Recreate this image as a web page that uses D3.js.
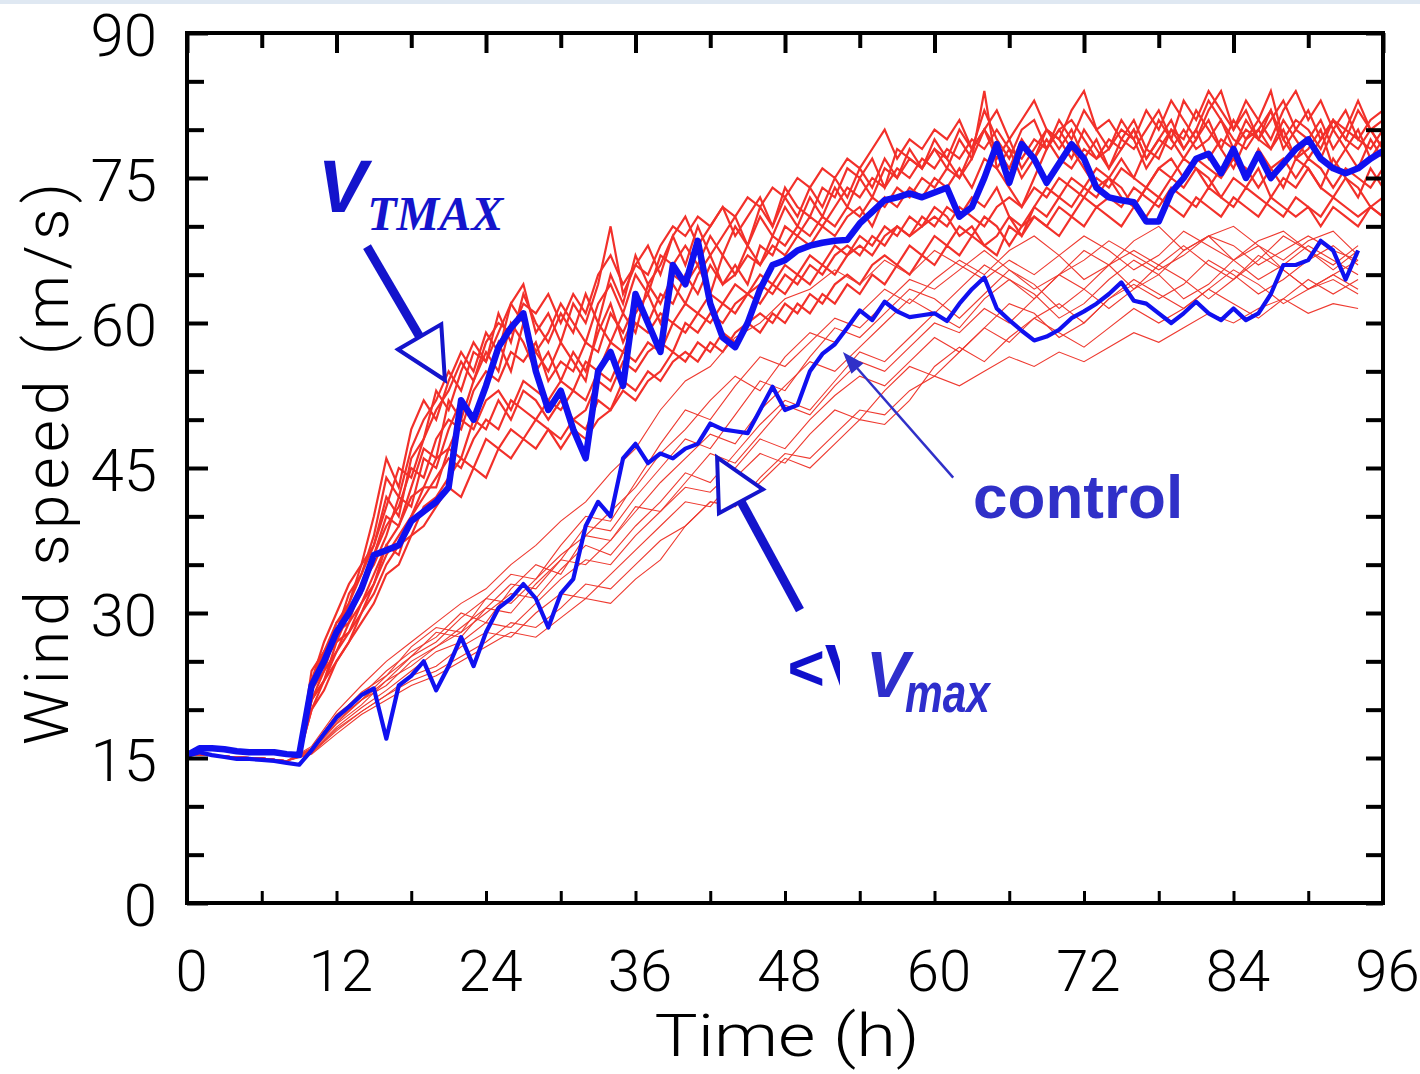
<!DOCTYPE html>
<html>
<head>
<meta charset="utf-8">
<script src="https://cdn.jsdelivr.net/npm/d3@7"></script>
<style>
  body { margin: 0; background: #fff; }
  svg { display: block; }
  .tick text { font-family: Roboto, "Liberation Sans", sans-serif; font-weight: 300; fill: #000; }
</style>
</head>
<body>
<div id="chart-area"></div>
<script>
// ---- data (hourly for V_TMAX runs, h = index) ----
var ctrlTmax = [15.3,16,16,15.9,15.7,15.6,15.6,15.6,15.4,15.3,
  22.5,25,28,30,32.5,36,36.5,37,39.5,40.5,
  41.5,43,52,50,53.5,57.5,59.5,61,55,51,
  53,49,46,55,57,53.5,63,60,57,66,
  64,68.5,62,58.5,57.5,60,63.5,66,66.5,67.5,
  68,68.3,68.5,68.6,70.3,71.5,72.7,73,73.4,73,
  73.5,74,71,72,75,78.5,74.5,78.5,77,74.5,
  76.5,78.5,77,74,73,72.7,72.5,70.5,70.5,73.5,
  75,77,77.5,75.5,78,75,77.5,75,76.5,78,
  79,77,76,75.5,76,77,77.8];

// control run, V_max (hourly, h = index, ends at 94 h)
var ctrlVmax = [15.2,15.6,15.3,15.1,14.9,14.9,14.8,14.7,14.5,14.3,
  15.8,17.5,19.2,20.3,21.5,22.2,17,22.5,23.5,25,
  22,24.5,27.5,24.5,28,30.5,31.5,33,31.5,28.5,
  32,33.5,39,41.5,40,46,47.5,45.5,46.5,46,
  47,47.5,49.6,49,48.8,48.6,51,53.4,51,51.5,
  55,56.8,57.8,59.5,61.3,60.3,62.2,61.2,60.6,60.8,
  61,60.2,62,63.5,64.7,61.5,60.3,59.2,58.2,58.6,
  59.3,60.5,61.2,62,63,64.2,62.3,62,61,60,
  61,62.2,61,60.3,61.5,60.3,61,63,66,66,
  66.5,68.5,67.5,64.5,67.5];

// ensemble members, V_TMAX (hourly)
var tmaxM1 = [15.3,16,16,15.9,15.7,15.6,15.6,15.6,15.4,15.3,
  24,26,29,31,34,38,44,42,47,50, 52,55,53,57,56,61,58,63,60,58,
  61,59,63,60,65,62,67,64,66,69, 66,70,67,69,71,68,72,70,73,71,
  74,72,75,73,76,74,77,75,78,76, 79,77,80,78,82,79,77,80,81,78,
  81,79,82,80,78,81,79,82,80,83, 81,79,82,84,80,82,79,81,83,80,
  82,79,81,80,83,80,81];
var tmaxM2 = [15.3,16,16,15.9,15.7,15.6,15.6,15.6,15.4,15.3,
  20,22,25,27,29,31,34,35,38,39, 41,43,42,45,44,47,46,48,47,49,
  47,49,48,50,51,53,52,54,55,57, 56,58,57,59,58,60,61,60,62,61,
  63,62,64,65,64,66,67,66,68,67, 69,68,70,69,71,70,68,70,71,70,
  72,71,73,72,73,72,74,73,72,74, 73,72,74,73,72,74,73,72,71,73,
  72,71,73,72,71,72,71];
var tmaxM3 = [15.3,16,16,15.9,15.7,15.6,15.6,15.6,15.4,15.3,
  22,25,27,30,32,36,39,41,45,44, 48,50,49,53,55,54,57,56,58,54,
  56,55,58,57,61,59,62,60,63,62, 65,63,66,64,65,67,66,68,67,69,
  68,70,69,71,72,70,73,72,74,73, 75,74,76,74,77,76,78,75,77,79,
  77,76,78,77,79,78,80,77,79,78, 80,78,79,81,78,80,79,82,78,80,
  79,81,78,80,79,78,80];
var tmaxM4 = [15.3,16,16,15.9,15.7,15.6,15.6,15.6,15.4,15.3,
  23,27,30,33,35,40,46,43,49,52, 50,54,57,55,59,57,62,64,59,61,
  58,62,60,64,70,63,66,68,65,69, 71,68,70,72,69,71,73,70,74,72,
  71,74,73,76,75,77,74,78,77,76, 78,76,79,77,80,78,76,79,77,80,
  78,80,77,79,76,78,80,77,79,81, 78,80,77,79,78,81,79,78,80,77,
  79,77,80,78,76,79,77];
var tmaxM5 = [15.3,16,16,15.9,15.7,15.6,15.6,15.6,15.4,15.3,
  21,23,26,28,30,33,36,38,40,42, 44,46,45,48,50,49,52,51,50,52,
  51,53,52,55,54,57,56,58,57,60, 59,61,60,62,61,63,64,63,65,64,
  66,65,67,68,67,69,68,70,69,71, 70,72,71,73,72,74,71,69,72,74,
  73,75,74,76,75,73,72,74,76,75, 77,76,74,76,77,75,78,76,74,77,
  76,74,77,75,73,76,74];
var tmaxM6 = [15.3,16,16,15.9,15.7,15.6,15.6,15.6,15.4,15.3,
  22,24,28,29,33,35,38,42,41,46, 45,49,52,50,54,58,55,60,57,55,
  58,56,54,60,58,61,59,64,62,65, 64,66,63,67,65,68,66,69,68,70,
  69,71,70,72,71,73,72,74,73,75, 74,76,75,77,84,76,74,72,75,78,
  80,78,76,74,75,77,75,78,81,79, 77,79,81,78,76,79,81,84,79,77,
  78,80,76,78,80,77,79];
var tmaxM7 = [15.3,16,16,15.9,15.7,15.6,15.6,15.6,15.4,15.3,
  21,24,26,29,31,34,37,39,42,43, 46,47,50,49,52,53,51,54,53,52,
  54,53,56,55,58,57,60,59,61,60, 62,61,63,62,64,63,65,64,66,65,
  67,66,68,67,69,68,70,69,71,70, 72,71,69,70,68,69,71,70,72,71,
  73,72,74,73,75,74,72,74,73,75, 74,76,75,73,75,74,76,73,75,74,
  76,74,73,75,74,72,73];
var tmaxM8 = [15.3,16,16,15.9,15.7,15.6,15.6,15.6,15.4,15.3,
  23,26,28,32,34,37,41,45,44,48, 51,53,56,54,58,60,59,62,61,63,
  60,63,61,65,67,64,66,65,68,70, 69,71,70,72,71,73,72,74,73,75,
  74,76,75,77,76,78,80,77,79,78, 80,79,81,78,80,82,79,81,83,80,
  79,82,84,80,81,79,78,80,82,79, 83,81,84,82,80,83,81,79,82,84,
  81,83,80,82,79,81,82];
var tmaxM9 = [15.3,16,16,15.9,15.7,15.6,15.6,15.6,15.4,15.3,
  22,26,28,31,35,37,42,40,46,48, 53,51,55,58,56,59,62,60,57,59,
  62,60,58,62,64,61,65,63,67,66, 68,66,69,67,70,68,71,69,72,70,
  73,71,74,72,75,73,76,75,77,76, 78,77,75,78,80,77,79,76,78,80,
  79,77,80,78,76,79,81,78,77,80, 79,82,80,78,81,79,80,82,79,81,
  80,78,81,79,82,80,78];
var tmaxM10 = [15.3,16,16,15.9,15.7,15.6,15.6,15.6,15.4,15.3,
  21,23,27,28,31,33,37,36,40,43, 43,47,46,50,49,52,50,53,52,50,
  52,50,51,54,53,56,55,57,58,57, 60,59,61,60,62,63,62,64,63,65,
  64,66,65,67,68,67,69,70,69,70, 71,70,72,71,70,72,73,72,74,73,
  75,74,73,75,74,76,75,74,76,77, 75,77,76,75,77,76,74,76,77,75,
  77,76,74,76,75,74,76];
var tmaxM11 = [15.3,16,16,15.9,15.7,15.6,15.6,15.6,15.4,15.3,
  23,25,29,30,33,36,40,39,43,47, 46,52,50,54,57,55,60,58,55,57,
  54,57,55,59,62,58,61,63,60,64, 62,65,67,64,66,64,68,67,70,69,
  71,70,72,74,73,75,74,76,75,77, 76,78,77,79,78,80,78,77,79,78,
  80,81,79,77,78,80,79,76,78,80, 78,80,83,81,79,78,80,78,81,79,
  77,79,81,79,78,80,78];
var tmaxM12 = [15.3,16,16,15.9,15.7,15.6,15.6,15.6,15.4,15.3,
  20,23,25,27,30,32,35,37,38,41, 42,44,46,45,48,47,49,48,50,49,
  48,50,49,52,51,54,53,55,54,56, 57,56,58,57,59,60,59,61,60,62,
  61,63,62,64,63,65,64,66,65,67, 66,68,67,69,68,67,70,69,71,70,
  69,71,70,72,71,70,72,71,73,72, 71,73,72,71,73,72,71,73,72,71,
  72,70,72,71,70,72,71];

// ensemble members, V_max (every 2 h, h = 2 * index)
var vmaxM1 = [15.3,15.3,15.1,15,14.7,16.2,19.8,22.5,25,27, 29,31,32.5,35,37,39.5,41.5,44.5,47,51,
  54,55.5,58.5,60,62.5,63.5,65.5,64,66.5,65, 67.5,66,64.5,66.5,65,67,69,67.5,65.5,67, 69.5,68,66.5,68.5,69.5,67.5,66,68];
var vmaxM2 = [15.3,15.3,15.1,15,14.7,16,19.5,21.5,24,26, 27.5,30,29,32.5,35,34,38,40.5,43,46.5,
  49,52,54.5,53,56.5,59,58,61,63.5,62, 64.5,66.5,65,67.5,69,67,64.5,66,68.5,70, 67.5,69,70,68,66.5,68.5,69.5,67];
var vmaxM3 = [15.3,15.3,15.1,15,14.7,15.8,18.8,21,23.5,25.5, 27,29.5,31.5,31,33.5,36,38,37.5,40.5,43.5,
  46,48.5,47.5,51,53.5,56,55,57.5,60,62.5, 61,63.5,66,64.5,62.5,65,67.5,66,63.5,65, 67.5,69,66.5,64.5,66,68,66.5,65];
var vmaxM4 = [15.3,15.3,15.1,15,14.7,15.7,18.5,20.5,23,24.5, 26.5,28,30,32,31.5,34.5,37,36,39,41.5,
  44.5,43.5,46.5,49.5,52,51,54,57,56,58.5, 61,59.5,62.5,64.5,63,60.5,62,64.5,66.5,65, 62.5,64,66.5,68,65.5,63.5,65,66.5];
var vmaxM5 = [15.3,15.3,15.1,15,14.7,15.6,18.2,20.2,22,24, 26,27,29,28.5,31,33.5,35.5,35,38,40.5,
  43,42.5,45,48,47,50,52.5,54.5,53.5,56, 58.5,57,59.5,62,61,58.5,60,62.5,64,62.5, 64,66.5,65,63,64.5,66.5,68,66];
var vmaxM6 = [15.3,15.3,15.1,15,14.7,15.5,18,19.8,21.5,23.5, 24.5,26.5,28,27.5,30,32,31.5,34,36.5,39,
  41.5,41,44,46.5,45.5,48.5,51,50,53,55.5, 54.5,57,59.5,58,60.5,62,60,62.5,64.5,63, 61.5,63.5,65.5,64,62,63.5,65,63.5];
var vmaxM7 = [15.3,15.3,15.1,15,14.7,15.5,17.8,19.8,21.5,23, 24,25.5,27,29,28.5,30.5,33,32.5,35,37.5,
  39,41.5,41,43.5,46,45,47.5,50,49.5,52, 55.5,57.5,56,58.5,60.5,59,57.5,59.5,61.5,60, 61.5,63.5,62,60.5,62.5,64.5,63,64.5];
var vmaxM8 = [15.3,15.3,15.1,15,14.7,15.4,17.5,19.5,21,22.5, 23.5,25,26.5,28,27.5,29.5,31.5,31,33.5,35.5,
  39,41.5,41,44,46.5,46,48.5,51,50.5,53, 54.5,53.5,55,56.5,55.5,57,56,57.5,59,58, 59.5,61,60,61.5,62.5,61,62,61.5];
var vmaxM9 = [15.3,15.3,15.1,15,14.7,15.9,19,21,23,25.5, 28,27.5,30.5,33,32.5,35.5,39,38.5,42,45,
  48,47,50.5,54,53,56.5,59.5,58.5,61,63.5, 62.5,60.5,63,65.5,64,61.5,63.5,66,67.5,66, 68,66,64.5,66.5,69,67.5,65.5,67.5];
var vmaxM10 = [15.3,15.3,15.1,15,14.7,15.8,18.6,21,22.5,25, 26.5,28.5,30.5,30,33,35.5,35,37.5,41,40.5,
  43.5,46.5,45.5,48.5,51.5,50.5,53.5,56,55,57.5, 60,59,61.5,60,62.5,65,63.5,61.5,63.5,66, 64.5,62.5,64.5,67,65.5,63.5,64.5,63];
var vmaxM11 = [15.3,15.3,15.1,15,14.7,16,19.2,21.8,23.5,26.5, 28.5,28,31.5,34,33.5,37,40,39.5,43.5,47.5,
  51,50,53.5,56.5,55.5,58,60.5,59.5,62,64.5, 63.5,65.5,67.5,65.5,63.5,65,66.5,68.5,67,65.5, 67,69,68,66,67.5,69,67.5,66.5];

var xTicks = [0, 6, 12, 18, 24, 30, 36, 42, 48, 54, 60, 66, 72, 78, 84, 90, 96];
var yTicks = [0, 5, 10, 15, 20, 25, 30, 35, 40, 45, 50, 55, 60, 65, 70, 75, 80, 85, 90];

var tmaxRuns = [tmaxM1, tmaxM2, tmaxM3, tmaxM4, tmaxM5, tmaxM6, tmaxM7, tmaxM8, tmaxM9, tmaxM10, tmaxM11, tmaxM12];
var vmaxRuns = [vmaxM1, vmaxM2, vmaxM3, vmaxM4, vmaxM5, vmaxM6, vmaxM7, vmaxM8, vmaxM9, vmaxM10, vmaxM11];

var margin = { left: 187, right: 37, top: 33, bottom: 171 },
    width = 1420 - margin.left - margin.right,
    height = 1074 - margin.top - margin.bottom;

var svg = d3.select("#chart-area").append("svg")
    .attr("width", 1420)
    .attr("height", 1074);

svg.append("rect").attr("width", 1420).attr("height", 1074).attr("fill", "#fff");
svg.append("rect").attr("width", 1420).attr("height", 4).attr("fill", "#dfe8f2");

svg.append("defs").append("clipPath").attr("id", "plotclip")
  .append("rect").attr("x", 0).attr("y", 0).attr("width", width).attr("height", height);

var g = svg.append("g").attr("transform", "translate(" + margin.left + "," + margin.top + ")");

var x = d3.scaleLinear().domain([0, 96]).range([0, width]);
var y = d3.scaleLinear().domain([0, 90]).range([height, 0]);

var hourLine = d3.line().x(function (d, i) { return x(i); }).y(function (d) { return y(d); });
var twoHourLine = d3.line().x(function (d, i) { return x(i * 2); }).y(function (d) { return y(d); });

var plot = g.append("g").attr("clip-path", "url(#plotclip)");

// red ensemble
plot.selectAll("path.tmax").data(tmaxRuns).enter().append("path")
    .attr("class", "tmax")
    .attr("fill", "none")
    .attr("stroke", "#f2302a")
    .attr("stroke-width", 2.2)
    .attr("stroke-linejoin", "miter")
    .attr("d", hourLine);

plot.selectAll("path.vmax").data(vmaxRuns).enter().append("path")
    .attr("class", "vmax")
    .attr("fill", "none")
    .attr("stroke", "#ee3a30")
    .attr("stroke-width", 1.1)
    .attr("d", twoHourLine);

// control runs
plot.append("path").datum(ctrlVmax)
    .attr("fill", "none").attr("stroke", "#1010f0").attr("stroke-width", 4.2)
    .attr("stroke-linejoin", "round")
    .attr("d", hourLine);
plot.append("path").datum(ctrlTmax)
    .attr("fill", "none").attr("stroke", "#1010f0").attr("stroke-width", 6.5)
    .attr("stroke-linejoin", "round")
    .attr("d", hourLine);

// axes (ticks point inward)
var yAxisL = g.append("g").call(d3.axisLeft(y).tickValues(yTicks).tickSize(-17).tickPadding(30)
    .tickFormat(function (d) { return d % 15 === 0 ? d : ""; }));
yAxisL.selectAll("text").attr("font-size", 60).attr("dy", "0.37em");
yAxisL.selectAll(".tick line").filter(function (d) { return d % 15 === 0; }).attr("x2", 21);

var yAxisR = g.append("g").attr("transform", "translate(" + width + ",0)")
    .call(d3.axisRight(y).tickValues(yTicks).tickSize(-17).tickFormat(""));

var xAxisB = g.append("g").attr("transform", "translate(0," + height + ")")
    .call(d3.axisBottom(x).tickValues(xTicks).tickSize(-12).tickPadding(47)
    .tickFormat(function (d) { return d % 12 === 0 ? d : ""; }));
xAxisB.selectAll("text").attr("font-size", 58).attr("dx", 4);

var xAxisT = g.append("g")
    .call(d3.axisTop(x).tickValues(xTicks).tickSize(-15).tickFormat(""));
xAxisT.selectAll(".tick line").filter(function (d) { return d % 12 === 0; }).attr("y2", 20);

[yAxisL, yAxisR, xAxisT].forEach(function (a) {
    a.select(".domain").remove();
    a.selectAll(".tick line").attr("stroke", "#000").attr("stroke-width", 4);
});
xAxisB.select(".domain").remove();
xAxisB.selectAll(".tick line").attr("stroke", "#000").attr("stroke-width", 3);

g.append("rect").attr("width", width).attr("height", height)
    .attr("fill", "none").attr("stroke", "#000").attr("stroke-width", 4);

// axis titles
svg.append("text")
    .attr("x", margin.left + width / 2 + 2).attr("y", 1056)
    .attr("text-anchor", "middle")
    .attr("font-family", "Roboto, 'Liberation Sans', sans-serif").attr("font-weight", 300)
    .attr("font-size", 60).attr("textLength", 265).attr("lengthAdjust", "spacingAndGlyphs")
    .text("Time (h)");

svg.append("text")
    .attr("transform", "translate(68," + (margin.top + 431) + ") rotate(-90)")
    .attr("text-anchor", "middle")
    .attr("font-family", "Roboto, 'Liberation Sans', sans-serif").attr("font-weight", 300)
    .attr("font-size", 62).attr("textLength", 562).attr("lengthAdjust", "spacing")
    .text("Wind speed (m/s)");

// annotations
function hollowArrow(x0, y0, x1, y1, color) {
    var dx = x1 - x0, dy = y1 - y0, len = Math.sqrt(dx * dx + dy * dy);
    var ux = dx / len, uy = dy / len, nx = -uy, ny = ux;
    var headL = 50, headW = 25;
    var bx = x1 - ux * headL, by = y1 - uy * headL;
    svg.append("line")
        .attr("x1", x0).attr("y1", y0).attr("x2", bx).attr("y2", by)
        .attr("stroke", color).attr("stroke-width", 9);
    svg.append("path")
        .attr("d", "M" + (bx + nx * headW) + "," + (by + ny * headW) + "L" + x1 + "," + y1 +
             "L" + (bx - nx * headW) + "," + (by - ny * headW) + "Z")
        .attr("fill", "#fff").attr("stroke", color).attr("stroke-width", 4)
        .attr("stroke-linejoin", "miter");
}

var px = function (h) { return margin.left + x(h); };
var py = function (v) { return margin.top + y(v); };

// V_TMAX label + arrow
var vt = svg.append("text").attr("x", px(10.5)).attr("y", py(71.5)).attr("fill", "#1414cc");
vt.append("tspan").attr("font-family", "'Liberation Sans', Arial, sans-serif")
    .attr("font-weight", "bold").attr("font-style", "italic").attr("font-size", 74).text("V");
vt.append("tspan").attr("font-family", "'Liberation Serif', serif")
    .attr("font-weight", "bold").attr("font-style", "italic").attr("font-size", 48)
    .attr("dy", 18).text("TMAX");
hollowArrow(px(14.45), py(67.9), px(20.7), py(54.1), "#1414cc");

// V_max arrow
hollowArrow(px(49.2), py(30.3), px(42.55), py(46.1), "#1414cc");

// <V fragment partly covered by white box
svg.append("text").attr("x", px(48.2)).attr("y", py(22))
    .attr("font-family", "'Liberation Sans', Arial, sans-serif").attr("font-weight", "bold")
    .attr("font-size", 64).attr("fill", "#1010cc").text("<V");
svg.append("rect").attr("x", 840).attr("y", 623).attr("width", 193).attr("height", 97).attr("fill", "#fff");
var vm = svg.append("text").attr("x", 866).attr("y", 697).attr("fill", "#2e2ecc")
    .attr("font-family", "'Liberation Sans', Arial, sans-serif").attr("font-weight", "bold").attr("font-style", "italic");
vm.append("tspan").attr("font-size", 65).text("V");
svg.append("text").attr("x", 905).attr("y", 712).attr("fill", "#2e2ecc")
    .attr("font-family", "'Liberation Sans', Arial, sans-serif").attr("font-weight", "bold").attr("font-style", "italic")
    .attr("font-size", 56).attr("textLength", 85).attr("lengthAdjust", "spacingAndGlyphs").text("max");

// control label + thin arrow
var cx0 = px(61.5), cy0 = py(44), cx1 = px(52.65), cy1 = py(57);
var cdx = cx1 - cx0, cdy = cy1 - cy0, clen = Math.sqrt(cdx * cdx + cdy * cdy);
var cux = cdx / clen, cuy = cdy / clen;
svg.append("line").attr("x1", cx0).attr("y1", cy0)
    .attr("x2", cx1 - cux * 18).attr("y2", cy1 - cuy * 18)
    .attr("stroke", "#3030c8").attr("stroke-width", 2.5);
svg.append("path")
    .attr("d", "M" + cx1 + "," + cy1 +
        "L" + (cx1 - cux * 22 - cuy * 8) + "," + (cy1 - cuy * 22 + cux * 8) +
        "L" + (cx1 - cux * 22 + cuy * 8) + "," + (cy1 - cuy * 22 - cux * 8) + "Z")
    .attr("fill", "#3030c8");
svg.append("text").attr("x", px(63.1)).attr("y", py(39.8))
    .attr("font-family", "'Liberation Sans', Arial, sans-serif").attr("font-weight", "bold")
    .attr("font-size", 62).attr("fill", "#3030c8").text("control");
</script>
</body>
</html>
